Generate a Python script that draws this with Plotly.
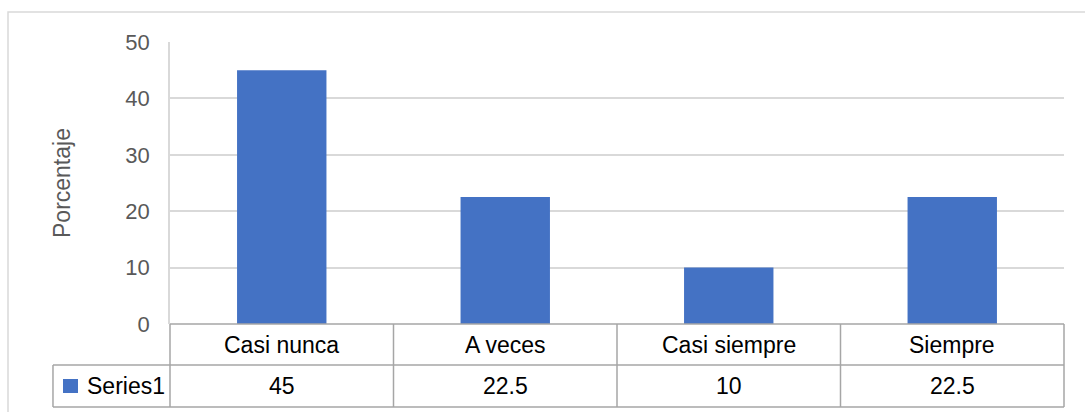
import plotly.graph_objects as go

# Chart data
categories = ["Casi nunca", "A veces", "Casi siempre", "Siempre"]
series_name = "Series1"
values = [45, 22.5, 10, 22.5]
y_ticks = [0, 10, 20, 30, 40, 50]

BAR_COLOR = "#4472c4"
GRID_COLOR = "#d9d9d9"
TABLE_LINE = "#a6a6a6"
FONT = "Liberation Sans"
FS_TICK = 22
FS_TABLE = 23

n = len(categories)
xs = list(range(n))

fig = go.Figure()
fig.add_trace(go.Bar(
    x=xs, y=values, width=0.4, marker_color=BAR_COLOR,
    marker_line_width=0, name=series_name, showlegend=False,
))

# Data-table geometry (paper units below the plot area)
row1_bottom = -0.1454
row2_bottom = -0.2943
left_ext = -0.1309  # left edge of the series row, in x-domain units

shapes = []
line = dict(color=TABLE_LINE, width=1.5)
# horizontal rules of the table
shapes.append(dict(type="line", xref="x domain", yref="paper", x0=0, x1=1,
                   y0=0, y1=0, line=line, layer="above"))
for yb in (row1_bottom, row2_bottom):
    shapes.append(dict(type="line", xref="x domain", yref="paper", x0=left_ext, x1=1,
                       y0=yb, y1=yb, line=line))
# vertical rules at category boundaries
for i in range(n + 1):
    shapes.append(dict(type="line", xref="x domain", yref="paper", x0=i / n, x1=i / n,
                       y0=0, y1=row2_bottom, line=line))
shapes.append(dict(type="line", xref="x domain", yref="paper", x0=left_ext, x1=left_ext,
                   y0=row1_bottom, y1=row2_bottom, line=line))
# legend key square in the series row
shapes.append(dict(type="rect", xref="x domain", yref="paper",
                   x0=-0.1197, x1=-0.1029, y0=-0.195, y1=-0.2447,
                   fillcolor=BAR_COLOR, line=dict(width=0)))
# outer chart border
shapes.append(dict(type="rect", xref="paper", yref="paper",
                   x0=-0.1812, x1=1.03, y0=-0.34, y1=1.1064,
                   line=dict(color=GRID_COLOR, width=1.5), fillcolor="rgba(0,0,0,0)",
                   layer="below"))

annotations = []
row1_mid = row1_bottom / 2
row2_mid = (row1_bottom + row2_bottom) / 2
for i, (c, v) in enumerate(zip(categories, values)):
    annotations.append(dict(x=i, y=row1_mid, xref="x", yref="paper",
                            xanchor="center", yanchor="middle",
                            text=c, showarrow=False,
                            font=dict(family=FONT, size=FS_TABLE, color="#000000")))
    annotations.append(dict(x=i, y=row2_mid, xref="x", yref="paper",
                            xanchor="center", yanchor="middle",
                            text=f"{v:g}", showarrow=False,
                            font=dict(family=FONT, size=FS_TABLE, color="#000000")))
annotations.append(dict(x=-0.0951, y=row2_mid,
                        xref="x domain", yref="paper", xanchor="left", yanchor="middle",
                        text=series_name, showarrow=False,
                        font=dict(family=FONT, size=FS_TABLE, color="#000000")))
annotations.append(dict(x=-0.1208, y=0.5, xref="paper", yref="paper",
                        xanchor="center", yanchor="middle",
                        text="Porcentaje", textangle=-90, showarrow=False,
                        font=dict(family=FONT, size=FS_TABLE, color="#595959")))

fig.update_layout(
    width=1085, height=412,
    margin=dict(l=170, r=21, t=42, b=88),
    paper_bgcolor="white", plot_bgcolor="white",
    xaxis=dict(range=[-0.5, n - 0.5], showticklabels=False, showgrid=False,
               zeroline=False, showline=False, ticks=""),
    yaxis=dict(range=[0, 50], tickvals=y_ticks, showgrid=True, gridcolor=GRID_COLOR,
               gridwidth=1.5, zeroline=False, showline=True, linecolor=GRID_COLOR,
               linewidth=1.5, ticks="", ticklabelstandoff=14,
               tickfont=dict(family=FONT, size=FS_TICK, color="#595959")),
    shapes=shapes, annotations=annotations,
    bargap=0.6,
)

fig.write_html("out.html")
